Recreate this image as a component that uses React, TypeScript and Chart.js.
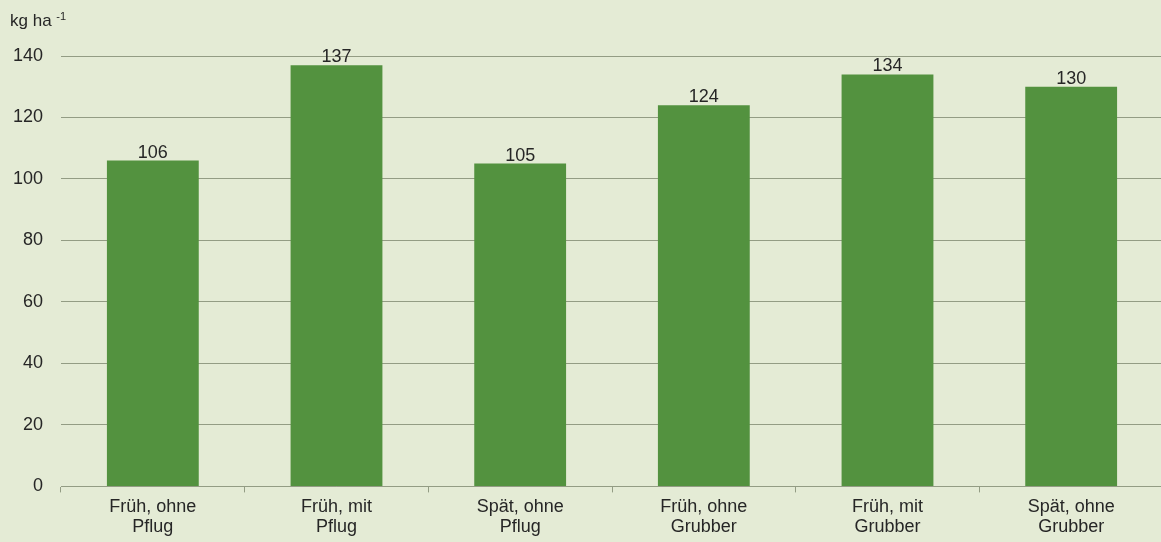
import React, { useEffect, useRef } from "react";
import { Chart, registerables } from "chart.js";

Chart.register(...registerables);

const categories: string[][] = [
  ["Früh, ohne", "Pflug"],
  ["Früh, mit", "Pflug"],
  ["Spät, ohne", "Pflug"],
  ["Früh, ohne", "Grubber"],
  ["Früh, mit", "Grubber"],
  ["Spät, ohne", "Grubber"],
];
const values: number[] = [106, 137, 105, 124, 134, 130];
const yTicks: number[] = [0, 20, 40, 60, 80, 100, 120, 140];
const unitMain = "kg ha";
const unitSup = "-1";

const BG = "#e4ebd5";
const BAR = "#53923f";
const GRID = "#939c84";
const TEXT = "#262626";
const FONT = "'Liberation Sans', Arial, sans-serif";

export default function App() {
  const ref = useRef<HTMLCanvasElement>(null);
  useEffect(() => {
    if (!ref.current) return;
    const labelPlugin = {
      id: "labels",
      afterDatasetsDraw(chart: any) {
        const ctx = chart.ctx;
        const meta = chart.getDatasetMeta(0);
        ctx.save();
        ctx.fillStyle = TEXT;
        ctx.font = `18px ${FONT}`;
        ctx.textAlign = "center";
        ctx.textBaseline = "alphabetic";
        meta.data.forEach((bar: any, i: number) => {
          ctx.fillText(String(values[i]), bar.x, bar.y - 3);
        });
        ctx.font = `17px ${FONT}`;
        ctx.textAlign = "left";
        ctx.fillText(unitMain, 10, 26);
        const w = ctx.measureText(unitMain + " ").width;
        ctx.font = `11px ${FONT}`;
        ctx.fillText(unitSup, 10 + w, 20);
        ctx.restore();
      },
    };
    const chart = new Chart(ref.current, {
      type: "bar",
      data: {
        labels: categories,
        datasets: [
          {
            data: values,
            backgroundColor: BAR,
            borderWidth: 0,
            barPercentage: 0.5,
            categoryPercentage: 1,
          },
        ],
      },
      options: {
        animation: false,
        responsive: false,
        maintainAspectRatio: false,
        layout: { padding: { top: 56, left: 0, right: 0, bottom: 0 } },
        plugins: {
          legend: { display: false },
          tooltip: { enabled: false },
        },
        scales: {
          x: {
            offset: true,
            grid: {
              offset: true,
              drawOnChartArea: false,
              drawTicks: true,
              tickLength: 6,
              color: GRID,
            },
            border: { display: true, color: GRID, width: 1 },
            ticks: {
              color: TEXT,
              font: { family: FONT, size: 18, lineHeight: 1.1 },
              padding: 5,
              maxRotation: 0,
              autoSkip: false,
            },
          },
          y: {
            min: 0,
            max: 140,
            afterBuildTicks: (axis: any) => {
              axis.ticks = yTicks.map((v) => ({ value: v }));
            },
            afterFit: (axis: any) => {
              axis.width = 61;
            },
            grid: { color: GRID, drawTicks: false, lineWidth: 1 },
            border: { display: false },
            ticks: {
              color: TEXT,
              font: { family: FONT, size: 18 },
              padding: 18,
            },
          },
        },
      },
      plugins: [labelPlugin],
    });
    return () => chart.destroy();
  }, []);
  return (
    <div
      style={{
        position: "fixed",
        left: 0,
        top: 0,
        width: 1161,
        height: 542,
        background: BG,
      }}
    >
      <canvas ref={ref} width={1163} height={542} style={{ display: "block" }} />
    </div>
  );
}
